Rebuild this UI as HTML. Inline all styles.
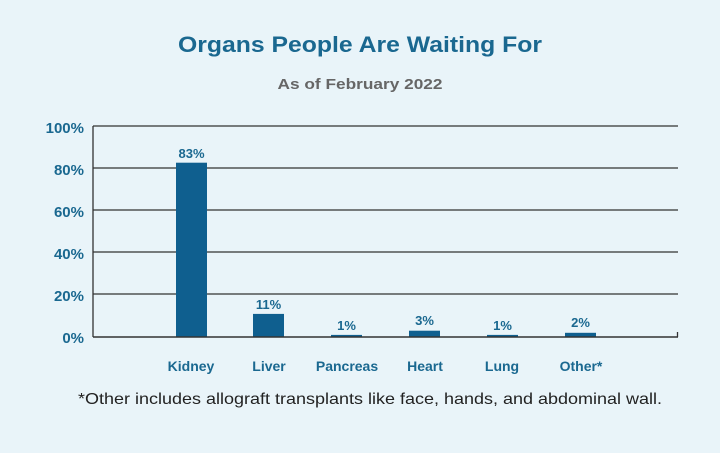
<!DOCTYPE html>
<html><head><meta charset="utf-8"><style>
html,body{margin:0;padding:0;background:#e9f4f9;}
svg{display:block;font-family:"Liberation Sans",sans-serif;}
</style></head><body>
<svg width="720" height="453" viewBox="0 0 720 453">
<rect width="720" height="453" fill="#e9f4f9"/>
<text x="360" y="52" text-anchor="middle" font-size="22" font-weight="bold" fill="#1a6890" textLength="364" lengthAdjust="spacingAndGlyphs">Organs People Are Waiting For</text>
<text x="360" y="89" text-anchor="middle" font-size="15" font-weight="bold" fill="#666" textLength="165" lengthAdjust="spacingAndGlyphs">As of February 2022</text>
<g stroke="#333" stroke-width="1.3">
<line x1="93" y1="126" x2="678" y2="126"/>
<line x1="93" y1="168" x2="678" y2="168"/>
<line x1="93" y1="210" x2="678" y2="210"/>
<line x1="93" y1="252" x2="678" y2="252"/>
<line x1="93" y1="294" x2="678" y2="294"/>
<line x1="93" y1="126" x2="93" y2="337"/>
<line x1="677.5" y1="332" x2="677.5" y2="337"/>
</g>
<g font-size="15" font-weight="bold" fill="#1a6890" text-anchor="end">
<text x="84" y="133">100%</text>
<text x="84" y="175">80%</text>
<text x="84" y="217">60%</text>
<text x="84" y="259">40%</text>
<text x="84" y="301">20%</text>
<text x="84" y="343">0%</text>
</g>
<g fill="#0f5f8f">
<rect x="176" y="162.7" width="31" height="174.3"/>
<rect x="253" y="313.9" width="31" height="23.1"/>
<rect x="331" y="334.9" width="31" height="2.1"/>
<rect x="409" y="330.7" width="31" height="6.3"/>
<rect x="487" y="334.9" width="31" height="2.1"/>
<rect x="565" y="332.8" width="31" height="4.2"/>
</g>
<line x1="93" y1="337" x2="678" y2="337" stroke="#333" stroke-width="1.5"/>
<g font-size="13" font-weight="bold" fill="#1a6890" text-anchor="middle">
<text x="191.5" y="158">83%</text>
<text x="268.5" y="309">11%</text>
<text x="346.5" y="330">1%</text>
<text x="424.5" y="325">3%</text>
<text x="502.5" y="330">1%</text>
<text x="580.5" y="327">2%</text>
</g>
<g font-size="14" font-weight="bold" fill="#1a6890" text-anchor="middle">
<text x="191" y="371">Kidney</text>
<text x="269" y="371">Liver</text>
<text x="347" y="371">Pancreas</text>
<text x="425" y="371">Heart</text>
<text x="502" y="371">Lung</text>
<text x="581" y="371">Other*</text>
</g>
<text x="370" y="404" text-anchor="middle" font-size="16" fill="#222" textLength="584" lengthAdjust="spacingAndGlyphs">*Other includes allograft transplants like face, hands, and abdominal wall.</text>
</svg>
</body></html>
